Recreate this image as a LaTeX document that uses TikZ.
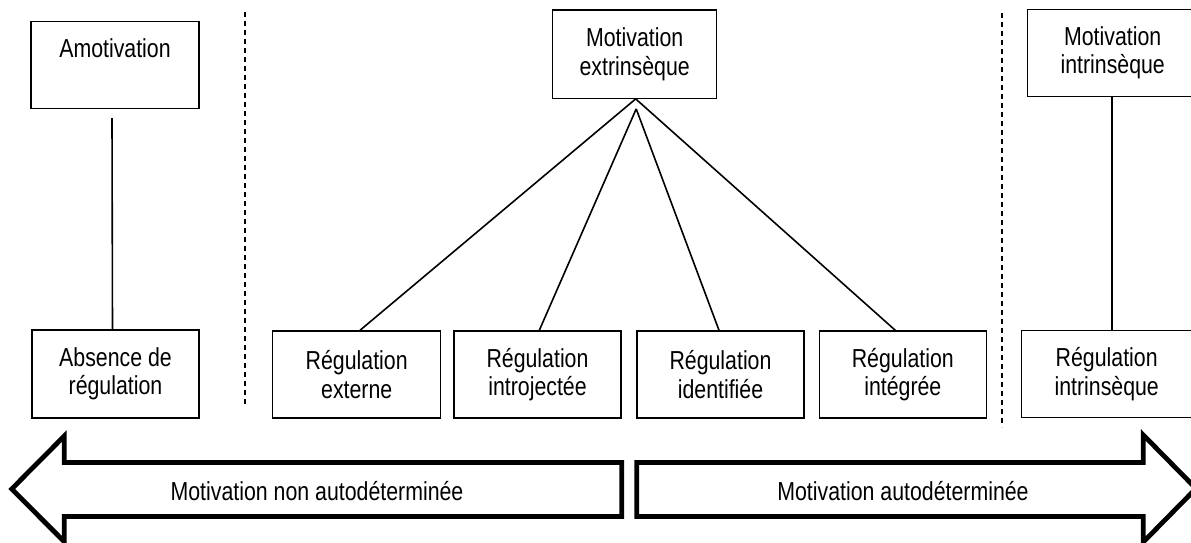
\documentclass[tikz,border=0pt]{standalone}
\usepackage{fontspec}
\setmainfont[FakeStretch=0.82]{Liberation Sans}
\begin{document}
\begin{tikzpicture}[x=1pt,y=-1pt,
  box/.style={draw,line width=1.4pt,rectangle,inner sep=0pt,align=center,
    font=\fontsize{26}{28.5}\selectfont,minimum width=168pt,minimum height=87pt},
  link/.style={line width=1.6pt},
  sep/.style={line width=1.4pt,dash pattern=on 5pt off 4pt},
  bigarrow/.style={line width=4.8pt},
  lbl/.style={font=\fontsize{26}{28.5}\selectfont,inner sep=0pt}]
\useasboundingbox (0,0) rectangle (1191,543);
\begin{scope}
\clip (0,0) rectangle (1191,543);

% upper row: kinds of motivation
\node[box] (amo) at (115,65) {Amotivation\\\phantom{g}};
\node[box,minimum width=164pt,minimum height=88pt] (me) at (634.7,54.2) {Motivation\\extrinsèque};
\node[box,minimum width=170pt] (mi) at (1112.7,53) {Motivation\\intrinsèque};

% lower row: kinds of regulation
\node[box,minimum width=167pt,minimum height=88pt] (abs) at (115.5,374) {Absence de\\régulation};
\node[box] (re1) at (356.7,374.5) {Régulation\\externe};
\node[box,minimum width=167pt] (re2) at (537.5,374.5) {Régulation\\introjectée};
\node[box,minimum width=167pt] (re3) at (720.5,374.5) {Régulation\\identifiée};
\node[box,minimum width=167pt] (re4) at (902.8,374.5) {Régulation\\intégrée};
\node[box,minimum width=170pt] (ri) at (1106.7,374) {Régulation\\intrinsèque};

% links between the rows
\draw[link] ([xshift=-3pt,yshift=-9pt]amo.south) -- ([xshift=-3pt]abs.north);
\draw[link] ([xshift=-0.5pt]mi.south) -- ([xshift=-0.5pt]mi.south |- ri.north);
\coordinate (apex) at ([xshift=1.5pt,yshift=-10pt]me.south);
\draw[link] ([xshift=1pt]me.south) -- ([xshift=3.3pt]re1.north);
\draw[link] ([xshift=1pt]me.south) -- ([xshift=-7.5pt]re4.north);
\draw[link] (apex) -- ([xshift=1.8pt]re2.north);
\draw[link] (apex) -- ([xshift=-1.5pt]re3.north);

% dashed separators
\draw[sep] (245,12) -- (245,407);
\draw[sep] (1002,13) -- (1002,427);

% bottom arrows
\draw[bigarrow] (11.7,489) -- (64.3,436) -- (64.3,462.5) -- (621.7,462.5)
  -- (621.7,516.5) -- (64.3,516.5) -- (64.3,541.7) -- cycle;
\draw[bigarrow] (636.7,462.5) -- (1143.3,462.5) -- (1143.3,435) -- (1196,488.5)
  -- (1143.3,542) -- (1143.3,516.5) -- (636.7,516.5) -- cycle;
\node[lbl] (lt) at (317,491) {Motivation non autodéterminée};
\node[lbl] (rt) at (903,491) {Motivation autodéterminée};
\end{scope}
\end{tikzpicture}
\end{document}
